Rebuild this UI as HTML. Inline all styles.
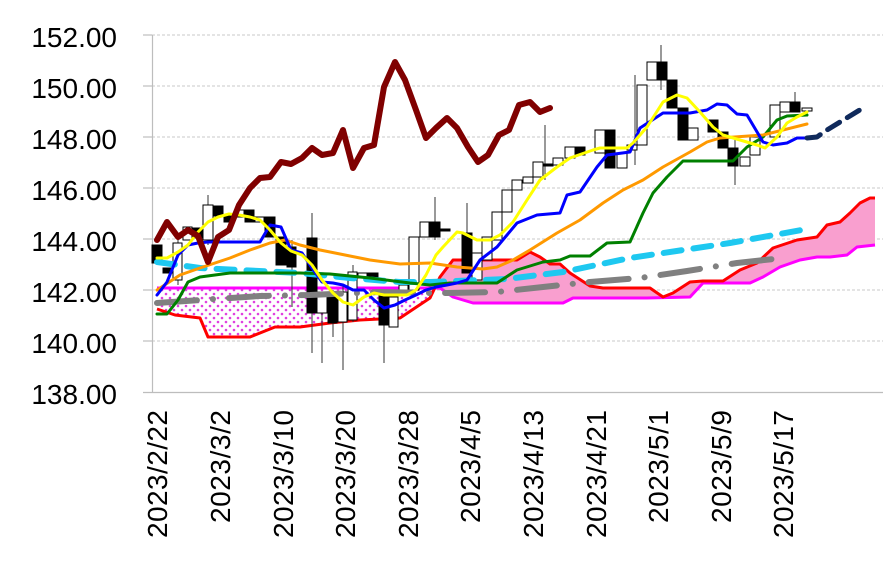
<!DOCTYPE html>
<html><head><meta charset="utf-8"><style>
html,body{margin:0;padding:0;background:#fff;}
svg{display:block;font-family:"Liberation Sans","Noto Sans CJK JP",sans-serif;}
</style></head><body>
<svg width="883" height="568" viewBox="0 0 883 568" xmlns="http://www.w3.org/2000/svg">
<defs>
<pattern id="dots" width="8" height="8" patternUnits="userSpaceOnUse">
<rect width="8" height="8" fill="#fff"/>
<circle cx="2" cy="2" r="1.3" fill="#e040e0"/>
<circle cx="6" cy="6" r="1.3" fill="#e040e0"/>
</pattern>
<clipPath id="cl"><rect x="150" y="0" width="280" height="400"/></clipPath>
<clipPath id="cr"><rect x="430" y="0" width="460" height="400"/></clipPath>
</defs>
<g stroke="#c8c8c8" stroke-width="1" stroke-dasharray="3,2">
<line x1="152" y1="35" x2="883" y2="35"/>
<line x1="152" y1="86" x2="883" y2="86"/>
<line x1="152" y1="137" x2="883" y2="137"/>
<line x1="152" y1="188" x2="883" y2="188"/>
<line x1="152" y1="239" x2="883" y2="239"/>
<line x1="152" y1="290" x2="883" y2="290"/>
<line x1="152" y1="341" x2="883" y2="341"/>
</g>
<g stroke="#bdbdbd" stroke-width="1.2">
<line x1="152.5" y1="35" x2="152.5" y2="392"/>
<line x1="143" y1="392.5" x2="883" y2="392.5"/>
<line x1="143" y1="35" x2="152" y2="35"/><line x1="143" y1="86" x2="152" y2="86"/>
<line x1="143" y1="137" x2="152" y2="137"/><line x1="143" y1="188" x2="152" y2="188"/>
<line x1="143" y1="239" x2="152" y2="239"/><line x1="143" y1="290" x2="152" y2="290"/>
<line x1="143" y1="341" x2="152" y2="341"/>
</g>
<g font-size="28" text-anchor="end" fill="#000">
<text x="117" y="47">152.00</text>
<text x="117" y="98">150.00</text>
<text x="117" y="149">148.00</text>
<text x="117" y="200">146.00</text>
<text x="117" y="251">144.00</text>
<text x="117" y="302">142.00</text>
<text x="117" y="353">140.00</text>
<text x="117" y="404">138.00</text>
</g>
<g font-size="28" text-anchor="end" fill="#000">
<text transform="translate(167,410) rotate(-90)" textLength="128">2023/2/22</text>
<text transform="translate(230,410) rotate(-90)" textLength="113">2023/3/2</text>
<text transform="translate(293,410) rotate(-90)" textLength="128">2023/3/10</text>
<text transform="translate(355,410) rotate(-90)" textLength="128">2023/3/20</text>
<text transform="translate(418,410) rotate(-90)" textLength="128">2023/3/28</text>
<text transform="translate(480,410) rotate(-90)" textLength="113">2023/4/5</text>
<text transform="translate(543,410) rotate(-90)" textLength="128">2023/4/13</text>
<text transform="translate(606,410) rotate(-90)" textLength="128">2023/4/21</text>
<text transform="translate(668,410) rotate(-90)" textLength="113">2023/5/1</text>
<text transform="translate(731,410) rotate(-90)" textLength="113">2023/5/9</text>
<text transform="translate(793,410) rotate(-90)" textLength="128">2023/5/17</text>
</g>
<polygon clip-path="url(#cl)" fill="url(#dots)" points="157,288 430,288 430,298 400,318 360,320 330,323 300,327 275,327 250,337 208,337 200,318 175,315 157,309"/>
<polygon clip-path="url(#cr)" fill="#f99fcf" points="430,298 440,277 453,260 517,260 530,252 540,257 550,264 560,264 570,273 590,286 603,288 650,288 663,297 673,293 690,282 703,281 723,281 740,270 757,263 773,248 797,240 817,237 827,225 840,222 850,213 860,203 870,198 875,198 875,245 857,247 847,255 830,257 817,257 800,260 780,267 763,277 750,283 703,283 690,297 647,298 573,298 563,303 473,303 453,297 440,287 430,287"/>
<g fill="none" stroke-width="3" stroke-linejoin="round">
<polyline stroke="#ff00ff" points="157,288 430,288 440,288 453,297 473,303 563,303 573,298 647,298 690,297 703,283 750,283 763,277 780,267 800,260 817,257 830,257 847,255 857,247 875,245"/>
<polyline stroke="#ff0000" points="157,309 175,315 200,318 208,337 250,337 275,327 300,327 330,323 360,320 400,318 430,298 440,277 453,260 517,260 530,252 540,257 550,264 560,264 570,273 590,286 603,288 650,288 663,297 673,293 690,282 703,281 723,281 740,270 757,263 773,248 797,240 817,237 827,225 840,222 850,213 860,203 870,198 875,198"/>
</g>
<g stroke="#000" stroke-width="1">
<g stroke="#333">
<line x1="312" y1="213" x2="312" y2="353"/><line x1="322" y1="292" x2="322" y2="363"/>
<line x1="333" y1="290" x2="333" y2="337"/><line x1="343" y1="285" x2="343" y2="370"/>
<line x1="353" y1="265" x2="353" y2="322"/><line x1="384" y1="290" x2="384" y2="363"/>
<line x1="292" y1="240" x2="292" y2="307"/><line x1="435" y1="197" x2="435" y2="240"/>
<line x1="467" y1="203" x2="467" y2="273"/><line x1="545" y1="125" x2="545" y2="180"/>
<line x1="635" y1="75" x2="635" y2="165"/><line x1="661" y1="45" x2="661" y2="90"/>
<line x1="735" y1="140" x2="735" y2="185"/><line x1="795" y1="92" x2="795" y2="112"/>
<line x1="208" y1="195" x2="208" y2="245"/><line x1="178" y1="235" x2="178" y2="285"/>
</g>
<rect x="152" y="245" width="10" height="18" fill="#000"/>
<rect x="163" y="268" width="9" height="5" fill="#000"/>
<rect x="173" y="243" width="9" height="37" fill="#fff"/>
<rect x="183" y="227" width="9" height="13" fill="#fff"/>
<rect x="193" y="228" width="9" height="10" fill="#000"/>
<rect x="203" y="205" width="10" height="35" fill="#fff"/>
<rect x="214" y="206" width="9" height="10" fill="#000"/>
<rect x="224" y="215" width="9" height="7" fill="#000"/>
<rect x="235" y="210" width="9" height="7" fill="#fff"/>
<rect x="245" y="210" width="9" height="12" fill="#000"/>
<rect x="255" y="217" width="9" height="5" fill="#fff"/>
<rect x="265" y="217" width="10" height="20" fill="#000"/>
<rect x="276" y="237" width="10" height="28" fill="#000"/>
<rect x="287" y="247" width="9" height="20" fill="#000"/>
<rect x="307" y="238" width="10" height="75" fill="#000"/>
<rect x="317" y="292" width="10" height="21" fill="#fff"/>
<rect x="328" y="295" width="9" height="28" fill="#000"/>
<rect x="338" y="292" width="9" height="30" fill="#fff"/>
<rect x="348" y="272" width="9" height="48" fill="#fff"/>
<rect x="358" y="273" width="9" height="5" fill="#fff"/>
<rect x="368" y="273" width="10" height="7" fill="#000"/>
<rect x="379" y="295" width="9" height="30" fill="#000"/>
<rect x="389" y="297" width="9" height="30" fill="#fff"/>
<rect x="399" y="285" width="9" height="8" fill="#fff"/>
<rect x="409" y="237" width="10" height="53" fill="#fff"/>
<rect x="420" y="222" width="9" height="15" fill="#fff"/>
<rect x="430" y="222" width="10" height="15" fill="#000"/>
<rect x="441" y="229" width="9" height="2" fill="#000"/>
<rect x="462" y="233" width="10" height="40" fill="#000"/>
<rect x="472" y="253" width="10" height="27" fill="#fff"/>
<rect x="482" y="237" width="10" height="23" fill="#fff"/>
<rect x="492" y="212" width="10" height="28" fill="#fff"/>
<rect x="502" y="190" width="10" height="22" fill="#fff"/>
<rect x="512" y="180" width="10" height="10" fill="#fff"/>
<rect x="523" y="177" width="10" height="6" fill="#fff"/>
<rect x="533" y="162" width="10" height="15" fill="#fff"/>
<rect x="543" y="164" width="10" height="2" fill="#000"/>
<rect x="553" y="158" width="10" height="7" fill="#fff"/>
<rect x="565" y="147" width="10" height="11" fill="#fff"/>
<rect x="575" y="147" width="10" height="8" fill="#000"/>
<rect x="595" y="130" width="10" height="23" fill="#fff"/>
<rect x="605" y="130" width="10" height="38" fill="#000"/>
<rect x="617" y="153" width="10" height="15" fill="#fff"/>
<rect x="627" y="145" width="10" height="5" fill="#fff"/>
<rect x="637" y="85" width="10" height="60" fill="#fff"/>
<rect x="647" y="62" width="10" height="18" fill="#fff"/>
<rect x="657" y="62" width="10" height="18" fill="#000"/>
<rect x="667" y="80" width="10" height="28" fill="#000"/>
<rect x="678" y="108" width="10" height="32" fill="#000"/>
<rect x="688" y="128" width="10" height="12" fill="#fff"/>
<rect x="708" y="120" width="10" height="12" fill="#000"/>
<rect x="718" y="132" width="10" height="16" fill="#000"/>
<rect x="728" y="148" width="10" height="18" fill="#000"/>
<rect x="740" y="157" width="10" height="9" fill="#fff"/>
<rect x="750" y="137" width="10" height="18" fill="#fff"/>
<rect x="770" y="105" width="10" height="32" fill="#fff"/>
<rect x="780" y="102" width="10" height="10" fill="#fff"/>
<rect x="790" y="102" width="10" height="10" fill="#000"/>
<rect x="802" y="108" width="10" height="3" fill="#fff"/>
</g>
<g fill="none" stroke-linejoin="round" stroke-linecap="round">
<polyline stroke="#808080" stroke-width="6" stroke-dasharray="40,16,0.1,16" points="157,303 200,300 260,296 310,295 380,292 430,293 447,293 497,292 543,287 590,282 640,278 687,271 737,263 783,258"/>
<polyline stroke="#1ec8f0" stroke-width="6" stroke-dasharray="18,12" points="157,262 200,268 300,273 350,278 400,282 430,282 507,279 563,272 630,258 730,243 807,229"/>
<polyline stroke="#008000" stroke-width="3" points="157,314 167,314 178,300 188,282 200,277 230,273 300,273 330,274 370,278 410,283 430,285 450,283 497,283 517,270 543,262 560,260 570,256 590,256 607,243 630,242 643,213 653,193 667,177 683,161 733,161 747,147 763,137 777,120 787,116 807,115"/>
<polyline stroke="#ff9900" stroke-width="3" points="157,290 180,275 200,268 230,258 250,250 270,243 285,240 300,245 320,250 345,255 370,260 400,264 430,263 457,267 483,269 497,267 513,260 530,250 557,233 580,220 603,203 623,190 643,180 663,167 690,152 707,142 720,138 763,135 807,124"/>
<polyline stroke="#0000ff" stroke-width="3" points="157,295 167,282 178,255 188,245 198,243 208,242 260,242 270,225 281,227 291,250 302,253 312,268 322,282 333,283 343,285 353,290 364,290 374,300 384,308 395,305 405,300 416,295 426,290 436,287 447,285 457,283 467,280 480,260 497,247 517,223 537,215 560,213 567,195 580,192 597,167 607,155 630,152 640,128 663,113 690,113 707,110 717,104 727,105 737,114 747,115 763,142 773,145 787,143 797,138 807,138"/>
<polyline stroke="#102a5c" stroke-width="5" stroke-dasharray="14,9" points="807,138 817,137 827,130 863,108"/>
<polyline stroke="#ffff00" stroke-width="3" points="157,258 167,258 178,252 188,245 198,232 208,222 218,217 229,214 239,215 250,217 260,220 270,230 281,243 291,251 302,255 312,265 322,280 333,293 343,302 353,305 364,297 374,293 384,295 395,295 407,295 416,290 426,275 436,255 443,247 457,232 463,233 477,240 490,240 500,235 513,222 527,200 540,180 557,167 570,158 593,150 600,148 627,148 633,143 647,127 663,102 677,95 687,98 700,112 713,127 723,135 740,140 757,145 765,148 777,137 787,123 797,117 807,112"/>
<polyline stroke="#800000" stroke-width="6" points="157,240 167,222 178,237 188,230 198,236 208,262 218,237 229,230 239,205 250,188 260,178 270,177 281,162 291,164 302,158 312,148 322,155 333,153 343,130 353,168 364,148 374,145 384,87 395,62 405,80 416,110 426,138 436,128 447,118 457,128 468,147 478,162 488,155 499,135 509,130 519,105 530,102 540,112 550,108"/>
</g>
</svg>
</body></html>
